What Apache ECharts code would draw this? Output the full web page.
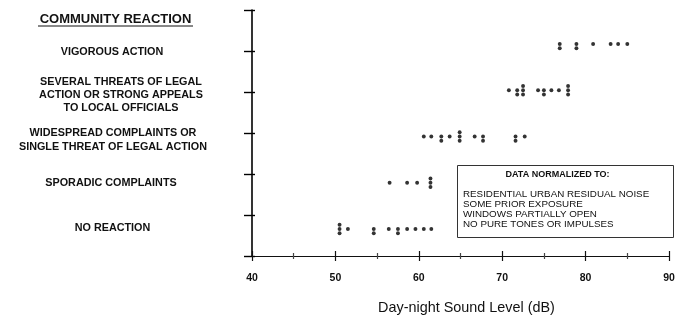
<!DOCTYPE html>
<html>
<head>
<meta charset="utf-8">
<script src="https://cdn.jsdelivr.net/npm/echarts@6/dist/echarts.min.js"></script>
<style>
html,body{margin:0;padding:0;background:#fff;}
#c{width:682px;height:320px;}
</style>
</head>
<body>
<div id="c"></div>
<script>
// ---- data ----
const categories = [
  'NO REACTION',
  'SPORADIC COMPLAINTS',
  'WIDESPREAD COMPLAINTS OR\nSINGLE THREAT OF LEGAL ACTION',
  'SEVERAL THREATS OF LEGAL\nACTION OR STRONG APPEALS\nTO LOCAL OFFICIALS',
  'VIGOROUS ACTION'
];
const headerText = 'COMMUNITY REACTION';
// Day-night sound level (dB) of each community case, per reaction category
const noReaction = [50.5, 50.5, 50.5, 51.5, 54.6, 54.6, 56.4, 57.5, 57.5, 58.6, 59.6, 60.6, 61.5];
const sporadic = [56.5, 58.6, 59.8, 61.4, 61.4, 61.4];
const widespread = [60.6, 61.5, 62.7, 62.7, 63.7, 64.9, 64.9, 64.9, 66.7, 67.7, 67.7, 71.6, 71.6, 72.7];
const severalThreats = [70.8, 71.8, 71.8, 72.5, 72.5, 72.5, 74.3, 75.0, 75.0, 75.9, 76.8, 77.9, 77.9, 77.9];
const vigorous = [76.9, 76.9, 78.9, 78.9, 80.9, 83.0, 83.9, 85.0];
const xMin = 40, xMax = 90, xStep = 10;
const xTitle = 'Day-night Sound Level (dB)';
const boxTitle = 'DATA NORMALIZED TO:';
const boxLines = ['RESIDENTIAL URBAN RESIDUAL NOISE', 'SOME PRIOR EXPOSURE', 'WINDOWS PARTIALLY OPEN', 'NO PURE TONES OR IMPULSES'];

// ---- build ----
const FONT = '"Liberation Sans", Arial, Helvetica, sans-serif';
const STACK = 4.3;
function stacked(vals, catIdx) {
  const seen = {};
  return vals.map(v => {
    const k = seen[v] || 0;
    seen[v] = k + 1;
    const off = k === 0 ? 0 : (k % 2 === 1 ? STACK * Math.ceil(k / 2) : -STACK * (k / 2));
    return { value: [v, categories[catIdx]], symbolOffset: [0, off] };
  });
}
const rows = [noReaction, sporadic, widespread, severalThreats, vigorous];
const scatterData = [];
rows.forEach((r, i) => scatterData.push(...stacked(r, i)));

const labelPos = [[112.5, 228], [111, 183], [113, 140], [121, 95], [112, 52]];

const chart = echarts.init(document.getElementById('c'), null, { renderer: 'canvas' });

const baseX = {
  type: 'value', min: xMin, max: xMax, interval: xStep,
  gridIndex: 0, position: 'bottom', splitLine: { show: false }
};

const option = {
  animation: false,
  backgroundColor: '#ffffff',
  textStyle: { fontFamily: FONT },
  grid: [
    { left: 252, right: 13, top: 10, bottom: 63 },
    { left: 252, right: 13, top: 20.9, bottom: 67.9 }
  ],
  xAxis: [
    Object.assign({}, baseX, {
      axisLine: { show: true, lineStyle: { color: '#111', width: 1.2 } },
      axisTick: { show: true, length: 5, lineStyle: { color: '#111', width: 1.2 } },
      minorTick: { show: true, splitNumber: 2, length: 3, lineStyle: { color: '#444', width: 1.2 } },
      axisLabel: { show: true, margin: 17, fontSize: 10.5, fontWeight: 'bold', color: '#111', fontFamily: FONT },
      name: xTitle, nameLocation: 'middle', nameGap: 45,
      nameTextStyle: { fontSize: 14.4, color: '#111', fontFamily: FONT, padding: [0, 0, 0, 12] }
    }),
    Object.assign({}, baseX, {
      axisLine: { show: false },
      axisTick: { show: true, inside: true, length: 5, lineStyle: { color: '#111', width: 1.2 } },
      minorTick: { show: true, splitNumber: 2, length: 3, lineStyle: { color: '#444', width: 1.2 } },
      axisLabel: { show: false }
    }),
    { type: 'value', min: xMin, max: xMax, gridIndex: 1, show: false }
  ],
  yAxis: [
    {
      type: 'value', min: 0, max: 6, interval: 1, gridIndex: 0, position: 'left',
      axisLine: { show: true, lineStyle: { color: '#000', width: 1.6 } },
      axisTick: { show: true, length: 8, lineStyle: { color: '#000', width: 1.4 } },
      axisLabel: { show: false }, splitLine: { show: false }
    },
    {
      type: 'value', min: 0, max: 6, interval: 1, gridIndex: 0, position: 'left',
      axisLine: { show: false },
      axisTick: { show: true, inside: true, length: 3, lineStyle: { color: '#000', width: 1.4 } },
      axisLabel: { show: false }, splitLine: { show: false }
    },
    {
      type: 'category', data: categories, gridIndex: 1, show: false, boundaryGap: true
    }
  ],
  series: [{
    type: 'scatter',
    xAxisIndex: 2, yAxisIndex: 2,
    symbol: 'circle', symbolSize: 3.9,
    itemStyle: { color: '#000' },
    data: scatterData
  }],
  graphic: [
    {
      type: 'text', x: 115.5, y: 19,
      style: { text: headerText, font: 'bold 13px ' + FONT, fill: '#111',
        align: 'center', verticalAlign: 'middle', textAlign: 'center', textVerticalAlign: 'middle' }
    },
    {
      type: 'line', shape: { x1: 38, y1: 26, x2: 193, y2: 26 },
      style: { stroke: '#111', lineWidth: 1 }
    }
  ].concat(categories.map((c, i) => ({
    type: 'text', x: labelPos[i][0], y: labelPos[i][1],
    style: { text: c, font: 'bold 10.8px ' + FONT, fill: '#111', lineHeight: 13.3,
      align: 'center', verticalAlign: 'middle', textAlign: 'center', textVerticalAlign: 'middle' }
  }))).concat([
    {
      type: 'rect', z: 10, shape: { x: 457.5, y: 165.5, width: 216, height: 72 },
      style: { fill: '#fff', stroke: '#333', lineWidth: 1 }
    },
    {
      type: 'text', z: 11, x: 557.5, y: 175,
      style: { text: boxTitle, font: 'bold 9px ' + FONT, fill: '#111',
        align: 'center', verticalAlign: 'middle', textAlign: 'center', textVerticalAlign: 'middle' }
    },
    {
      type: 'text', z: 11, x: 463, y: 189,
      style: { text: boxLines.join('\n'), font: '9.8px ' + FONT, fill: '#111', lineHeight: 10.2,
        align: 'left', verticalAlign: 'top', textAlign: 'left', textVerticalAlign: 'top' }
    }
  ])
};
chart.setOption(option);
</script>
</body>
</html>
